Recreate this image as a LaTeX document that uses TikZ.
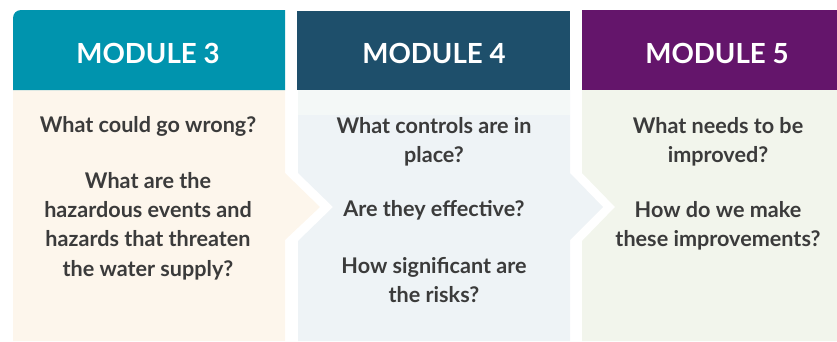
\documentclass[tikz,border=0pt]{standalone}
\usepackage{fontspec}
\setmainfont{Lato}
\usetikzlibrary{backgrounds}
\pgfdeclarelayer{edgelayer}
\pgfdeclarelayer{nodelayer}
\pgfsetlayers{edgelayer,nodelayer,main}
\definecolor{mthree}{HTML}{0094AE}
\definecolor{mfour}{HTML}{1E4F6B}
\definecolor{mfive}{HTML}{64156B}
\definecolor{bthree}{HTML}{FDF6EC}
\definecolor{bfour}{HTML}{EEF3F6}
\definecolor{bfourtop}{HTML}{F4F8F7}
\definecolor{bfive}{HTML}{F2F5EC}
\definecolor{qtext}{HTML}{3B3B3B}
\tikzstyle{none}=[inner sep=0pt]
\tikzstyle{head}=[inner sep=0pt,text=white,font=\fontsize{27.7}{33}\selectfont\bfseries,anchor=base]
\tikzstyle{ask}=[inner sep=0pt,text=qtext,align=center,font=\fontsize{21.6}{29.3}\selectfont\bfseries]

\begin{document}
\begin{tikzpicture}[x=1pt,y=-1pt]
	\useasboundingbox (0,0) rectangle (837,341);
	\clip (0,0) rectangle (837,341);
	\begin{pgfonlayer}{edgelayer}
		\fill[bthree] (13,90) -- (285,90) -- (285,173) -- (320,207) -- (285,240) -- (285,341) -- (13,341) -- cycle;
		\fill[bfour] (298,90) -- (570,90) -- (570,173) -- (603,207) -- (570,240) -- (570,341) -- (298,341) -- (298,241) -- (333,207) -- (298,173) -- cycle;
		\fill[bfourtop] (298,90) rectangle (570,115);
		\fill[bfive] (582,90) -- (860,90) -- (860,341) -- (582,341) -- (582,241) -- (615,207) -- (582,173) -- cycle;
		\fill[mthree] (13,90) -- (13,18) arc[start angle=180, end angle=270, radius=8] -- (285,10) -- (285,90) -- cycle;
		\fill[mfour] (297,11) rectangle (570,90);
		\fill[mfive] (582,10) rectangle (860,90);
	\end{pgfonlayer}
	\begin{pgfonlayer}{nodelayer}
		\node [style=head] (0) at (148, 63) {MODULE 3};
		\node [style=head] (1) at (434, 63) {MODULE 4};
		\node [style=head] (2) at (717, 63) {MODULE 5};
		\node [style=ask] (3) at (148, 126) {What could go wrong?};
		\node [style=ask] (4) at (148, 226) {What are the\\hazardous events and\\hazards that threaten\\the water supply?};
		\node [style=ask] (5) at (434, 142) {What controls are in\\place?};
		\node [style=ask] (6) at (434, 210) {Are they effective?};
		\node [style=ask] (7) at (434, 280) {How significant are\\the risks?};
		\node [style=ask] (8) at (718, 142) {What needs to be\\improved?};
		\node [style=ask] (9) at (718, 226) {How do we make\\these improvements?};
	\end{pgfonlayer}
\end{tikzpicture}
\end{document}
